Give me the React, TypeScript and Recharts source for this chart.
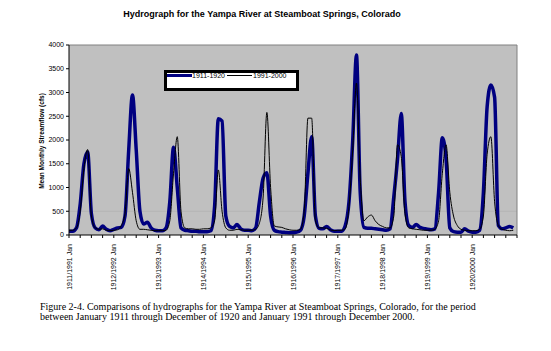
import React from 'react';
import { LineChart, Line, XAxis, YAxis, ReferenceLine, Legend, CartesianGrid } from 'recharts';

const yearLabels = [
  '1911/1991 Jan', '1912/1992 Jan', '1913/1993 Jan', '1914/1994 Jan', '1915/1995 Jan',
  '1916/1996 Jan', '1917/1997 Jan', '1918/1998 Jan', '1919/1999 Jan', '1920/2000 Jan',
];

const flow1911_1920 = [
  80, 80, 150, 650, 1500, 1750, 450, 150, 110, 190, 120, 90,
  120, 150, 160, 400, 1800, 2950, 1800, 500, 230, 270, 150, 100,
  90, 90, 150, 700, 1850, 1000, 150, 100, 90, 80, 80, 70,
  70, 70, 90, 600, 2450, 2400, 400, 180, 150, 220, 130, 100,
  100, 90, 150, 700, 1200, 1310, 400, 100, 70, 60, 55, 50,
  50, 60, 100, 400, 1300, 2070, 400, 140, 130, 180, 110, 80,
  80, 80, 200, 700, 2000, 3790, 900, 160, 140, 140, 130, 120,
  110, 100, 130, 800, 1600, 2560, 700, 200, 160, 220, 160, 140,
  120, 110, 130, 900, 2050, 1600, 150, 70, 60, 60, 130, 80,
  60, 60, 100, 900, 2700, 3160, 2900, 200, 130, 150, 180, 150,
];

const flow1991_2000 = [
  100, 100, 150, 500, 1400, 1800, 400, 150, 120, 130, 100, 90,
  100, 110, 200, 450, 1400, 900, 300, 120, 120, 110, 100, 90,
  90, 90, 100, 300, 1300, 2070, 500, 150, 130, 130, 120, 120,
  130, 130, 150, 300, 1370, 500, 150, 100, 100, 120, 110, 100,
  100, 100, 120, 250, 800, 2580, 1000, 190, 170, 160, 130, 110,
  100, 100, 120, 500, 2460, 2460, 300, 150, 150, 140, 110, 90,
  100, 100, 130, 600, 1800, 3200, 1200, 300, 380, 420, 300, 220,
  180, 150, 150, 400, 1900, 1650, 450, 150, 130, 120, 110, 100,
  100, 100, 120, 300, 1300, 1900, 900, 400, 200, 120, 100, 90,
  90, 90, 120, 400, 1700, 2070, 700, 200, 120, 100, 90, 100,
];

const seriesNames = ['1911-1920', '1991-2000'];
const yTicks = [0, 500, 1000, 1500, 2000, 2500, 3000, 3500, 4000];
const xTicks = [0, 3, 6, 9, 12, 15, 18, 21, 24, 27, 30, 33, 36, 39, 42, 45, 48, 51, 54, 57, 60, 63, 66, 69, 72, 75, 78, 81, 84, 87, 90, 93, 96, 99, 102, 105, 108, 111, 114, 117, 120];

const data = flow1911_1920.map((v, i) => ({ m: i, a: v, b: flow1991_2000[i] }));

const SANS = '"Liberation Sans", Arial, sans-serif';

const XTick = (props: any) => {
  const { x, y, payload } = props;
  const v = payload.value;
  const label = v % 12 === 0 && v / 12 < yearLabels.length ? yearLabels[v / 12] : '';
  if (!label) return null;
  return (
    <text
      x={x}
      y={y + 4}
      transform={`rotate(-90, ${x}, ${y + 4})`}
      textAnchor="end"
      dominantBaseline="central"
      fontSize={7}
      fontFamily={SANS}
      fill="#000"
    >
      {label}
    </text>
  );
};

const LegendBox = () => (
  <div
    style={{
      width: 135,
      height: 21,
      boxSizing: 'border-box',
      border: '3px solid #000',
      background: '#fff',
      position: 'relative',
      fontFamily: SANS,
      fontSize: 7,
      color: '#000',
    }}
  >
    <div style={{ position: 'absolute', left: 0, top: 1, width: 25, height: 3, background: '#000080' }} />
    <div style={{ position: 'absolute', left: 25, top: -2, lineHeight: '9px' }}>{seriesNames[0]}</div>
    <div style={{ position: 'absolute', left: 60, top: 2, width: 25, height: 1, background: '#000' }} />
    <div style={{ position: 'absolute', left: 86, top: -2, lineHeight: '9px' }}>{seriesNames[1]}</div>
  </div>
);

export default function App() {
  return (
    <div style={{ position: 'absolute', left: 0, top: 0, width: 551, height: 351, background: '#fff' }}>
      <div
        style={{
          position: 'absolute',
          left: 0,
          top: 9,
          width: 524,
          textAlign: 'center',
          fontFamily: SANS,
          fontWeight: 'bold',
          fontSize: 9,
          color: '#000',
        }}
      >
        Hydrograph for the Yampa River at Steamboat Springs, Colorado
      </div>
      <div
        style={{
          position: 'absolute',
          left: 42 - 60,
          top: 141 - 5,
          width: 120,
          height: 10,
          lineHeight: '10px',
          textAlign: 'center',
          transform: 'rotate(-90deg)',
          fontFamily: SANS,
          fontWeight: 'bold',
          fontSize: 6.5,
          color: '#000',
        }}
      >
        Mean Monthly Streamflow (cfs)
      </div>
      <LineChart
        width={551}
        height={351}
        data={data}
        margin={{ top: 45, right: 34, left: 0, bottom: 35 }}
      >
        <CartesianGrid fill="#c0c0c0" stroke="none" horizontal={false} vertical={false} />
        <ReferenceLine y={500} stroke="#b4b4b4" strokeWidth={1} />
        <ReferenceLine y={4000} stroke="#808080" strokeWidth={1} />
        <ReferenceLine x={120} stroke="#808080" strokeWidth={1} />
        <XAxis
          dataKey="m"
          type="number"
          domain={[0, 120]}
          ticks={xTicks}
          interval={0}
          height={60}
          tickSize={3}
          tick={<XTick />}
          axisLine={{ stroke: '#000' }}
          tickLine={{ stroke: '#000' }}
        />
        <YAxis
          width={69}
          domain={[0, 4000]}
          ticks={yTicks}
          interval={0}
          tickSize={3}
          tick={{ fontSize: 7, fill: '#000', fontFamily: SANS }}
          axisLine={{ stroke: '#000' }}
          tickLine={{ stroke: '#000' }}
        />
        <Legend
          content={<LegendBox />}
          wrapperStyle={{ position: 'absolute', left: 164, top: 70, width: 135, height: 21 }}
        />
        <Line
          type="monotone"
          dataKey="a"
          name={seriesNames[0]}
          stroke="#000080"
          strokeWidth={3.5}
          dot={false}
          isAnimationActive={false}
        />
        <Line
          type="monotone"
          dataKey="b"
          name={seriesNames[1]}
          stroke="#000"
          strokeWidth={1}
          dot={false}
          isAnimationActive={false}
        />
      </LineChart>
      <div
        style={{
          position: 'absolute',
          left: 40,
          top: 302,
          width: 480,
          fontFamily: '"Liberation Serif", "Times New Roman", serif',
          fontSize: 10,
          lineHeight: '10px',
          color: '#000',
        }}
      >
        Figure 2-4. Comparisons of hydrographs for the Yampa River at Steamboat Springs, Colorado, for the period
        <br />
        between January 1911 through December of 1920 and January 1991 through December 2000.
      </div>
    </div>
  );
}
